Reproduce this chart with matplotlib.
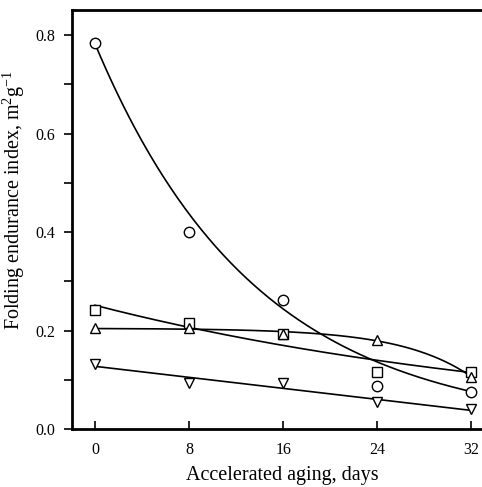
import numpy as np
import matplotlib.pyplot as plt

plt.rcParams['font.family'] = ['Liberation Serif', 'DejaVu Serif']
plt.rcParams['mathtext.fontset'] = 'custom'
plt.rcParams['mathtext.rm'] = 'Liberation Serif'
plt.rcParams['mathtext.it'] = 'Liberation Serif:italic'

# Accelerated aging days and folding endurance index for each sample
days = np.array([0, 8, 16, 24, 32])
circles = np.array([0.783, 0.400, 0.262, 0.088, 0.076])
squares = np.array([0.242, 0.215, 0.192, 0.116, 0.116])
triangles = np.array([0.205, 0.205, 0.193, 0.181, 0.106])
inv_triangles = np.array([0.132, 0.094, 0.093, 0.054, 0.040])

xs = np.linspace(0, 32, 200)


def endpoint_decay(x, y):
    # exponential through first and last point
    a = y[0]
    b = np.log(y[0] / y[-1]) / (x[-1] - x[0])
    return lambda t: a * np.exp(-b * t)


def decay_fit(x, y):
    # y = a*exp(-b*x), grid over b and least squares for a
    best = None
    for b in np.linspace(0.001, 0.3, 3000):
        e = np.exp(-b * x)
        a = np.dot(e, y) / np.dot(e, e)
        err = np.sum((a * e - y) ** 2)
        if best is None or err < best[0]:
            best = (err, a, b)
    _, a, b = best
    return lambda t: a * np.exp(-b * t)


def drop_fit(x, y):
    # y = a - b*exp(c*x), grid over c and least squares for a, b
    best = None
    for c in np.linspace(0.02, 0.3, 2000):
        A = np.column_stack([np.ones_like(x, dtype=float), -np.exp(c * x)])
        coef, *_ = np.linalg.lstsq(A, y, rcond=None)
        err = np.sum((A @ coef - y) ** 2)
        if best is None or err < best[0]:
            best = (err, c, coef)
    _, c, (a, b) = best
    return lambda t: a - b * np.exp(c * t)


fig = plt.figure(figsize=(4.82, 4.87), dpi=100)
ax = fig.add_axes([0.149, 0.119, 0.852, 0.8605])

ax.plot(xs, endpoint_decay(days, circles)(xs), color='black', lw=1.2)
ax.plot(xs, decay_fit(days, squares)(xs), color='black', lw=1.2)
ax.plot(xs, drop_fit(days, triangles)(xs), color='black', lw=1.2)
ax.plot(xs, np.polyval(np.polyfit(days, inv_triangles, 1), xs), color='black', lw=1.2)

mk = dict(ls='none', mfc='white', mec='black', mew=1.0, ms=7.5)
ax.plot(days, circles, marker='o', **mk)
ax.plot(days, squares, marker='s', **mk)
ax.plot(days, triangles, marker='^', **mk)
ax.plot(days, inv_triangles, marker='v', **mk)

ax.set_xlim(-1.96, 32.94)
ax.set_ylim(0, 0.851)
ax.set_xticks([0, 8, 16, 24, 32])
ax.set_yticks([0.0, 0.2, 0.4, 0.6, 0.8])
ax.set_yticks([0.1, 0.3, 0.5, 0.7], minor=True)
ax.set_yticklabels(['0.0', '0.2', '0.4', '0.6', '0.8'])
ax.tick_params(axis='x', direction='in', length=6, width=1.2, labelsize=11.5, pad=9)
ax.tick_params(axis='y', which='both', direction='out', length=6, width=1.2, labelsize=11.5, pad=6)

for s in ['left', 'bottom', 'top']:
    ax.spines[s].set_linewidth(2)
ax.spines['right'].set_visible(False)

ax.set_xlabel('Accelerated aging, days', fontsize=14.5)
ax.xaxis.set_label_coords(0.512, -0.088)
ax.set_ylabel('Folding endurance index, m$^{2}$g$^{-1}$', fontsize=14.5)
ax.yaxis.set_label_coords(-0.11, 0.547)

fig.savefig('out.png', dpi=100)
